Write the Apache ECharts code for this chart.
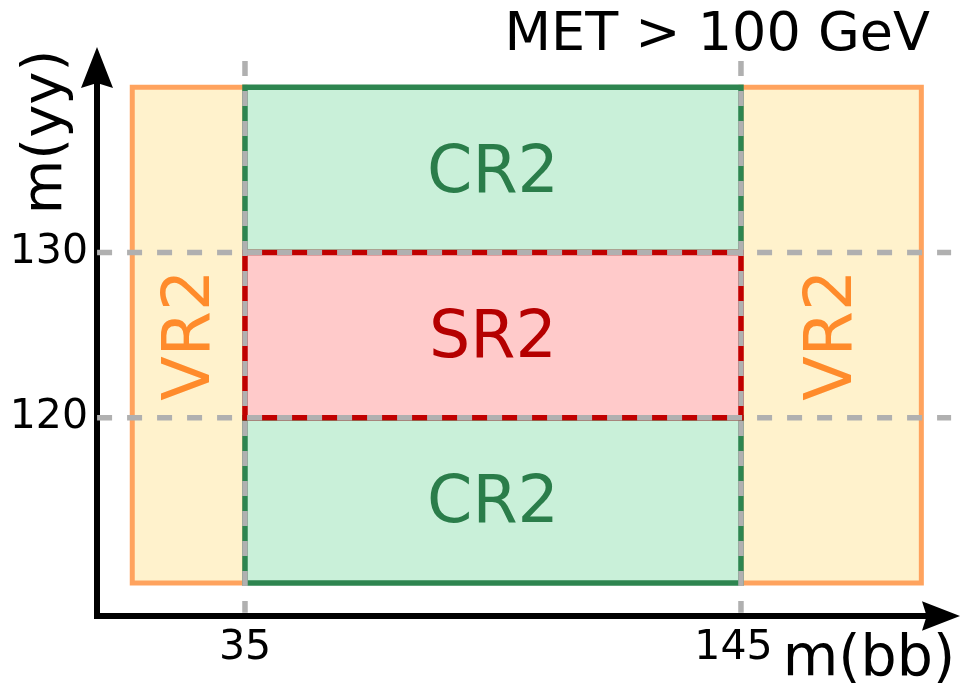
<!DOCTYPE html>
<html><head><meta charset="utf-8">
<script src="https://cdn.jsdelivr.net/npm/echarts@6/dist/echarts.min.js"></script>
<style>html,body{margin:0;padding:0;background:#fff}#c{width:963px;height:687px}</style>
</head><body><div id="c"></div>
<script>
// ---- data ----
const regionNames = ['VR2', 'VR2', 'CR2', 'CR2', 'SR2'];
const regionKinds = ['VR', 'VR', 'CR', 'CR', 'SR'];
const regionXMin = [10, 145, 35, 35, 35];
const regionXMax = [35, 185, 145, 145, 145];
const regionYMin = [110, 110, 130, 110, 120];
const regionYMax = [140, 140, 140, 120, 130];
const xCuts = [35, 145];
const yCuts = [120, 130];
const xTickLabels = [35, 145];
const yTickLabels = [120, 130];
const titleText = 'MET > 100 GeV';
const xName = 'm(bb)';
const yName = 'm(yy)';

// ---- styles / layout ----
const FONT = '"DejaVu Sans", Verdana, sans-serif';
const kindStyle = {
  VR: {fill: '#FFF2CC', stroke: '#FFA35E', text: '#FF8B2B', rotate: true, width: 5},
  CR: {fill: '#C9F0D9', stroke: '#2E8550', text: '#2A7D4A', rotate: false, width: 5.5},
  SR: {fill: '#FFCACA', stroke: '#C00000', text: '#B50000', rotate: false, width: 5.5}
};
const X_MIN = 2.18, X_MAX = 189.36, Y_MIN = 108, Y_MAX = 141.2;
const VCUT_TOP = 141.6, VCUT_BOT = 108.2;
const HCUT_LEFT = 2.2, HCUT_RIGHT = 191.6;
const ARROW = 'path://M16,0L32,41L16,36L0,41Z';

const regionData = regionNames.map((n, i) => [regionXMin[i], regionYMin[i], regionXMax[i], regionYMax[i], i]);

const chart = echarts.init(document.getElementById('c'), null, {renderer: 'canvas'});
chart.setOption({
  animation: false,
  backgroundColor: '#fff',
  title: {
    text: titleText, right: 33, top: 9, padding: 0,
    textStyle: {fontFamily: FONT, fontSize: 54, fontWeight: 'normal', color: '#000'}
  },
  grid: {left: 97, right: 22, top: 67.5, bottom: 71},
  xAxis: {
    type: 'value', min: X_MIN, max: X_MAX,
    axisLine: {show: true, onZero: false, symbol: ['none', ARROW], symbolSize: [30, 38],
      lineStyle: {color: '#000', width: 6, cap: 'square'}},
    axisTick: {show: false}, splitLine: {show: false},
    axisLabel: {
      customValues: xTickLabels, margin: 12, color: '#000', fontFamily: FONT, fontSize: 41,
      formatter: v => (v === 145 ? '{s|' + v + '}' : String(v)),
      rich: {s: {fontFamily: FONT, fontSize: 41, color: '#000', padding: [0, 15, 0, 0]}}
    }
  },
  yAxis: {
    type: 'value', min: Y_MIN, max: Y_MAX,
    axisLine: {show: true, onZero: false, symbol: ['none', ARROW], symbolSize: [32, 41],
      lineStyle: {color: '#000', width: 6, cap: 'square'}},
    axisTick: {show: false}, splitLine: {show: false},
    axisLabel: {customValues: yTickLabels, margin: 9, color: '#000', fontFamily: FONT, fontSize: 41}
  },
  graphic: [
    {type: 'text', x: 869, y: 660, style: {text: xName, font: '57px ' + FONT, fill: '#000', align: 'center', verticalAlign: 'middle'}},
    {type: 'text', x: 46, y: 132, rotation: Math.PI / 2, style: {text: yName, font: '56px ' + FONT, fill: '#000', align: 'center', verticalAlign: 'middle'}}
  ],
  series: [
    {
      type: 'custom', clip: false, encode: {x: [0, 2], y: [1, 3]},
      data: regionData,
      renderItem: (params, api) => {
        const i = api.value(4);
        const st = kindStyle[regionKinds[i]];
        const p0 = api.coord([api.value(0), api.value(3)]);
        const p1 = api.coord([api.value(2), api.value(1)]);
        const cx = (p0[0] + p1[0]) / 2, cy = (p0[1] + p1[1]) / 2;
        return {
          type: 'group',
          children: [
            {type: 'rect', shape: {x: p0[0], y: p0[1], width: p1[0] - p0[0], height: p1[1] - p0[1]},
              style: {fill: st.fill, stroke: st.stroke, lineWidth: st.width}},
            {type: 'text', x: cx, y: cy, rotation: st.rotate ? Math.PI / 2 : 0,
              style: {text: regionNames[i], x: 0, y: st.rotate ? 3 : 5, font: '65px ' + FONT, fill: st.text, align: 'center', verticalAlign: 'middle'}}
          ]
        };
      }
    },
    {
      type: 'custom', clip: false, encode: {x: 0},
      data: xCuts.map(v => [v]),
      renderItem: (params, api) => {
        const v = api.value(0);
        const a = api.coord([v, VCUT_TOP]), b = api.coord([v, VCUT_BOT]);
        return {type: 'line', shape: {x1: a[0], y1: a[1], x2: b[0], y2: b[1]},
          style: {stroke: '#B0B0B0', lineWidth: 5.5, lineDash: [15, 15]}};
      }
    },
    {
      type: 'custom', clip: false, encode: {y: 0},
      data: yCuts.map(v => [v]),
      renderItem: (params, api) => {
        const v = api.value(0);
        const a = api.coord([HCUT_LEFT, v]), b = api.coord([HCUT_RIGHT, v]);
        return {type: 'line', shape: {x1: a[0], y1: a[1], x2: b[0], y2: b[1]},
          style: {stroke: '#B0B0B0', lineWidth: 5.5, lineDash: [15, 15]}};
      }
    }
  ]
});
</script>
</body></html>
